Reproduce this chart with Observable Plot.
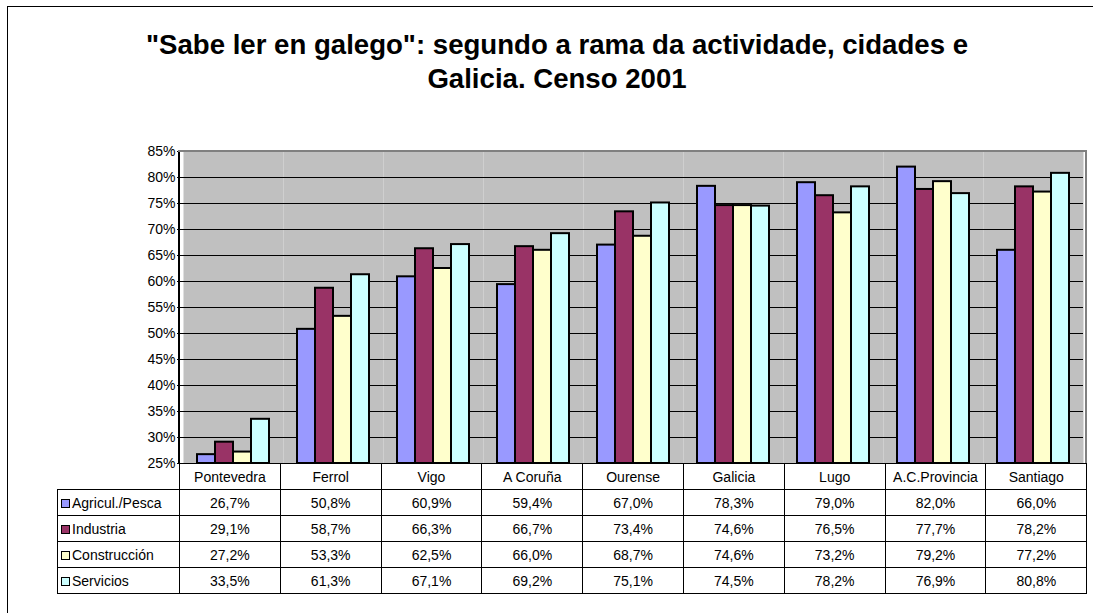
<!DOCTYPE html>
<html>
<head>
<meta charset="utf-8">
<script src="https://cdn.jsdelivr.net/npm/d3@7"></script>
<script src="https://cdn.jsdelivr.net/npm/@observablehq/plot@0.6"></script>
<style>
  html, body { margin: 0; padding: 0; background: #fff; }
  #wrap { position: relative; width: 1093px; height: 613px; overflow: hidden; font-family: "Liberation Sans", Arial, sans-serif; }
  #frame { position: absolute; left: 7px; top: 6px; width: 1200px; height: 700px; border-left: 1.5px solid #000; border-top: 1.5px solid #000; }
  #title { position: absolute; left: 7px; width: 1100px; top: 28px; text-align: center; font-weight: bold; font-size: 27.6px; line-height: 34px; color: #000; }
  #chart { position: absolute; left: 0; top: 0; }
  #axisline { position: absolute; left: 178px; top: 151px; width: 1.5px; height: 312px; background: #000; }
  #rightline { position: absolute; left: 1085px; top: 150px; width: 2px; height: 313px; background: #808080; }
  #topline { position: absolute; left: 178px; top: 150px; width: 909px; height: 2px; background: #808080; }
  table { position: absolute; left: 57px; top: 463px; border-collapse: collapse; font-size: 14px; table-layout: fixed; }
  td { border: 1px solid #000; height: 25px; padding: 0; text-align: center; color: #000; }
  td.lab { text-align: left; padding-left: 3px; white-space: nowrap; }
  td.blank { border: none; border-right: 1px solid #000; }
  .key { display: inline-block; width: 7px; height: 7px; border: 1.5px solid #000; margin-right: 2px; vertical-align: 0px; }
</style>
</head>
<body>
<div id="wrap">
  <div id="frame"></div>
  <div id="title">"Sabe ler en galego": segundo a rama da actividade, cidades e<br>Galicia. Censo 2001</div>
  <div id="chart"></div>
  <div id="axisline"></div>
  <div id="rightline"></div>
  <div id="topline"></div>
  <table id="tbl"></table>
</div>
<script>
const categories = ["Pontevedra", "Ferrol", "Vigo", "A Coruña", "Ourense", "Galicia", "Lugo", "A.C.Provincia", "Santiago"];
const seriesNames = ["Agricul./Pesca", "Industria", "Construcción", "Servicios"];
const seriesColors = ["#9999ff", "#993366", "#ffffcc", "#ccffff"];
const agricultura = [26.7, 50.8, 60.9, 59.4, 67.0, 78.3, 79.0, 82.0, 66.0];
const industria = [29.1, 58.7, 66.3, 66.7, 73.4, 74.6, 76.5, 77.7, 78.2];
const construccion = [27.2, 53.3, 62.5, 66.0, 68.7, 74.6, 73.2, 79.2, 77.2];
const servicios = [33.5, 61.3, 67.1, 69.2, 75.1, 74.5, 78.2, 76.9, 80.8];
const yTicks = [25, 30, 35, 40, 45, 50, 55, 60, 65, 70, 75, 80, 85];

const seriesValues = [agricultura, industria, construccion, servicios];
const data = [];
categories.forEach((c, i) => {
  seriesNames.forEach((s, j) => {
    data.push({category: c, series: s, value: seriesValues[j][i]});
  });
});

const plot = Plot.plot({
  width: 1093,
  height: 465,
  marginLeft: 179,
  marginRight: 7,
  marginTop: 151,
  marginBottom: 2,
  style: {fontFamily: '"Liberation Sans", Arial, sans-serif', fontSize: "14px", background: "transparent", overflow: "visible"},
  fx: {domain: categories, padding: 0, axis: null},
  x: {domain: seriesNames, paddingInner: 0, paddingOuter: 0.72, axis: null},
  y: {domain: [25, 85], axis: null},
  color: {domain: seriesNames, range: seriesColors},
  marks: [
    Plot.frame({fill: "#c0c0c0", stroke: "none"}),
    Plot.gridY(yTicks, {stroke: "#000", strokeOpacity: 1, strokeWidth: 1}),
    Plot.axisY(yTicks, {label: null, tickFormat: d => d + "%", tickSize: 6, tickPadding: 2, fontSize: 14, stroke: "#000", color: "#000", anchor: "left"}),
    Plot.barY(data, {fx: "category", x: "series", y1: 25, y2: "value", fill: "series", stroke: "#000", strokeWidth: 2})
  ]
});
document.getElementById("chart").appendChild(plot);

// data table
const fmt = v => d3.format(".1f")(v).replace(".", ",") + "%";
const tbl = d3.select("#tbl");
const colg = tbl.append("colgroup");
colg.append("col").style("width", "122px");
categories.forEach(() => colg.append("col").style("width", "100.8px"));
const head = tbl.append("tr");
head.append("td").attr("class", "blank");
categories.forEach(c => head.append("td").text(c));
seriesNames.forEach((s, j) => {
  const tr = tbl.append("tr");
  const lab = tr.append("td").attr("class", "lab");
  lab.append("span").attr("class", "key").style("background", seriesColors[j]);
  lab.append("span").text(s);
  seriesValues[j].forEach(v => tr.append("td").text(fmt(v)));
});
</script>
</body>
</html>
